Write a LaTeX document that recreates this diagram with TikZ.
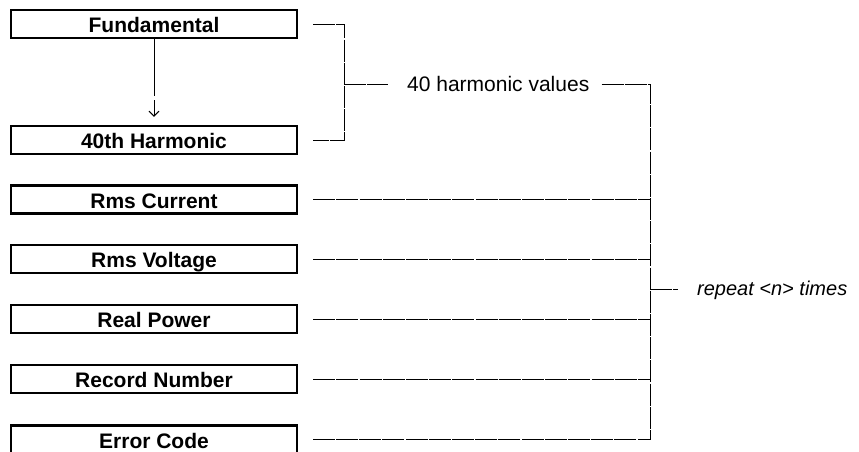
\documentclass[tikz,border=0pt]{standalone}
\usepackage{fontspec}
\setmainfont{Liberation Sans}
\usetikzlibrary{arrows.meta}
\begin{document}
\begin{tikzpicture}[x=1pt,y=-1pt,
  fieldbox/.style={draw, line width=2.2pt, minimum width=286pt, minimum height=28pt,
    inner sep=0pt, text height=17pt, text depth=0pt,
    font=\fontsize{21}{25}\selectfont\bfseries},
  bracketline/.style={line width=1pt, dash pattern=on 22pt off 1.2pt},
  notetext/.style={inner sep=0pt, anchor=base west, font=\fontsize{21}{25}\selectfont},
  flowarrow/.style={line width=1pt, dash pattern=on 57pt off 4pt on 40pt,
    shorten >=8pt, -{Straight Barb[length=5pt,width=10pt,line width=1pt]}},
]
\useasboundingbox (0,0) rectangle (859,451);
% boxes
\node[fieldbox] (fund) at (154,24)    {Fundamental};
\node[fieldbox] (harm) at (154,140)   {40th Harmonic};
\node[fieldbox] (cur)  at (154,199.5) {Rms Current};
\node[fieldbox] (volt) at (154,259)   {Rms Voltage};
\node[fieldbox] (pow)  at (154,319)   {Real Power};
\node[fieldbox] (rec)  at (154,379)   {Record Number};
\node[fieldbox] (err)  at (154,439.5) {Error Code};
% labels
\node[notetext] (harmv) at (407,91.5) {40 harmonic values};
\node[notetext, font=\fontsize{20}{24}\selectfont\itshape] (rep) at (697,295) {repeat <n> times};
% bracket columns
\coordinate (b1) at (344,0);
\coordinate (b2) at (650,0);
% arrow fundamental -> 40th
\draw[flowarrow] (fund.south) -- (harm.north);
% first bracket
\draw[bracketline] ([xshift=15pt]fund.east) -- (fund.east -| b1) -- (harm.east -| b1) -- ([xshift=15pt]harm.east);
\draw[bracketline] (b1 |- harmv.west) -- ([xshift=-19pt]harmv.west);
% second bracket
\draw[bracketline] ([xshift=12pt]harmv.east) -- (harmv.east -| b2) -- (err.east -| b2) -- ([xshift=15pt]err.east);
\draw[bracketline] ([xshift=15pt]cur.east) -- (cur.east -| b2);
\draw[bracketline] ([xshift=15pt]volt.east) -- (volt.east -| b2);
\draw[bracketline] ([xshift=15pt]pow.east) -- (pow.east -| b2);
\draw[bracketline] ([xshift=15pt]rec.east) -- (rec.east -| b2);
\draw[bracketline] (b2 |- rep.west) -- ([xshift=-19pt]rep.west);
\end{tikzpicture}
\end{document}
